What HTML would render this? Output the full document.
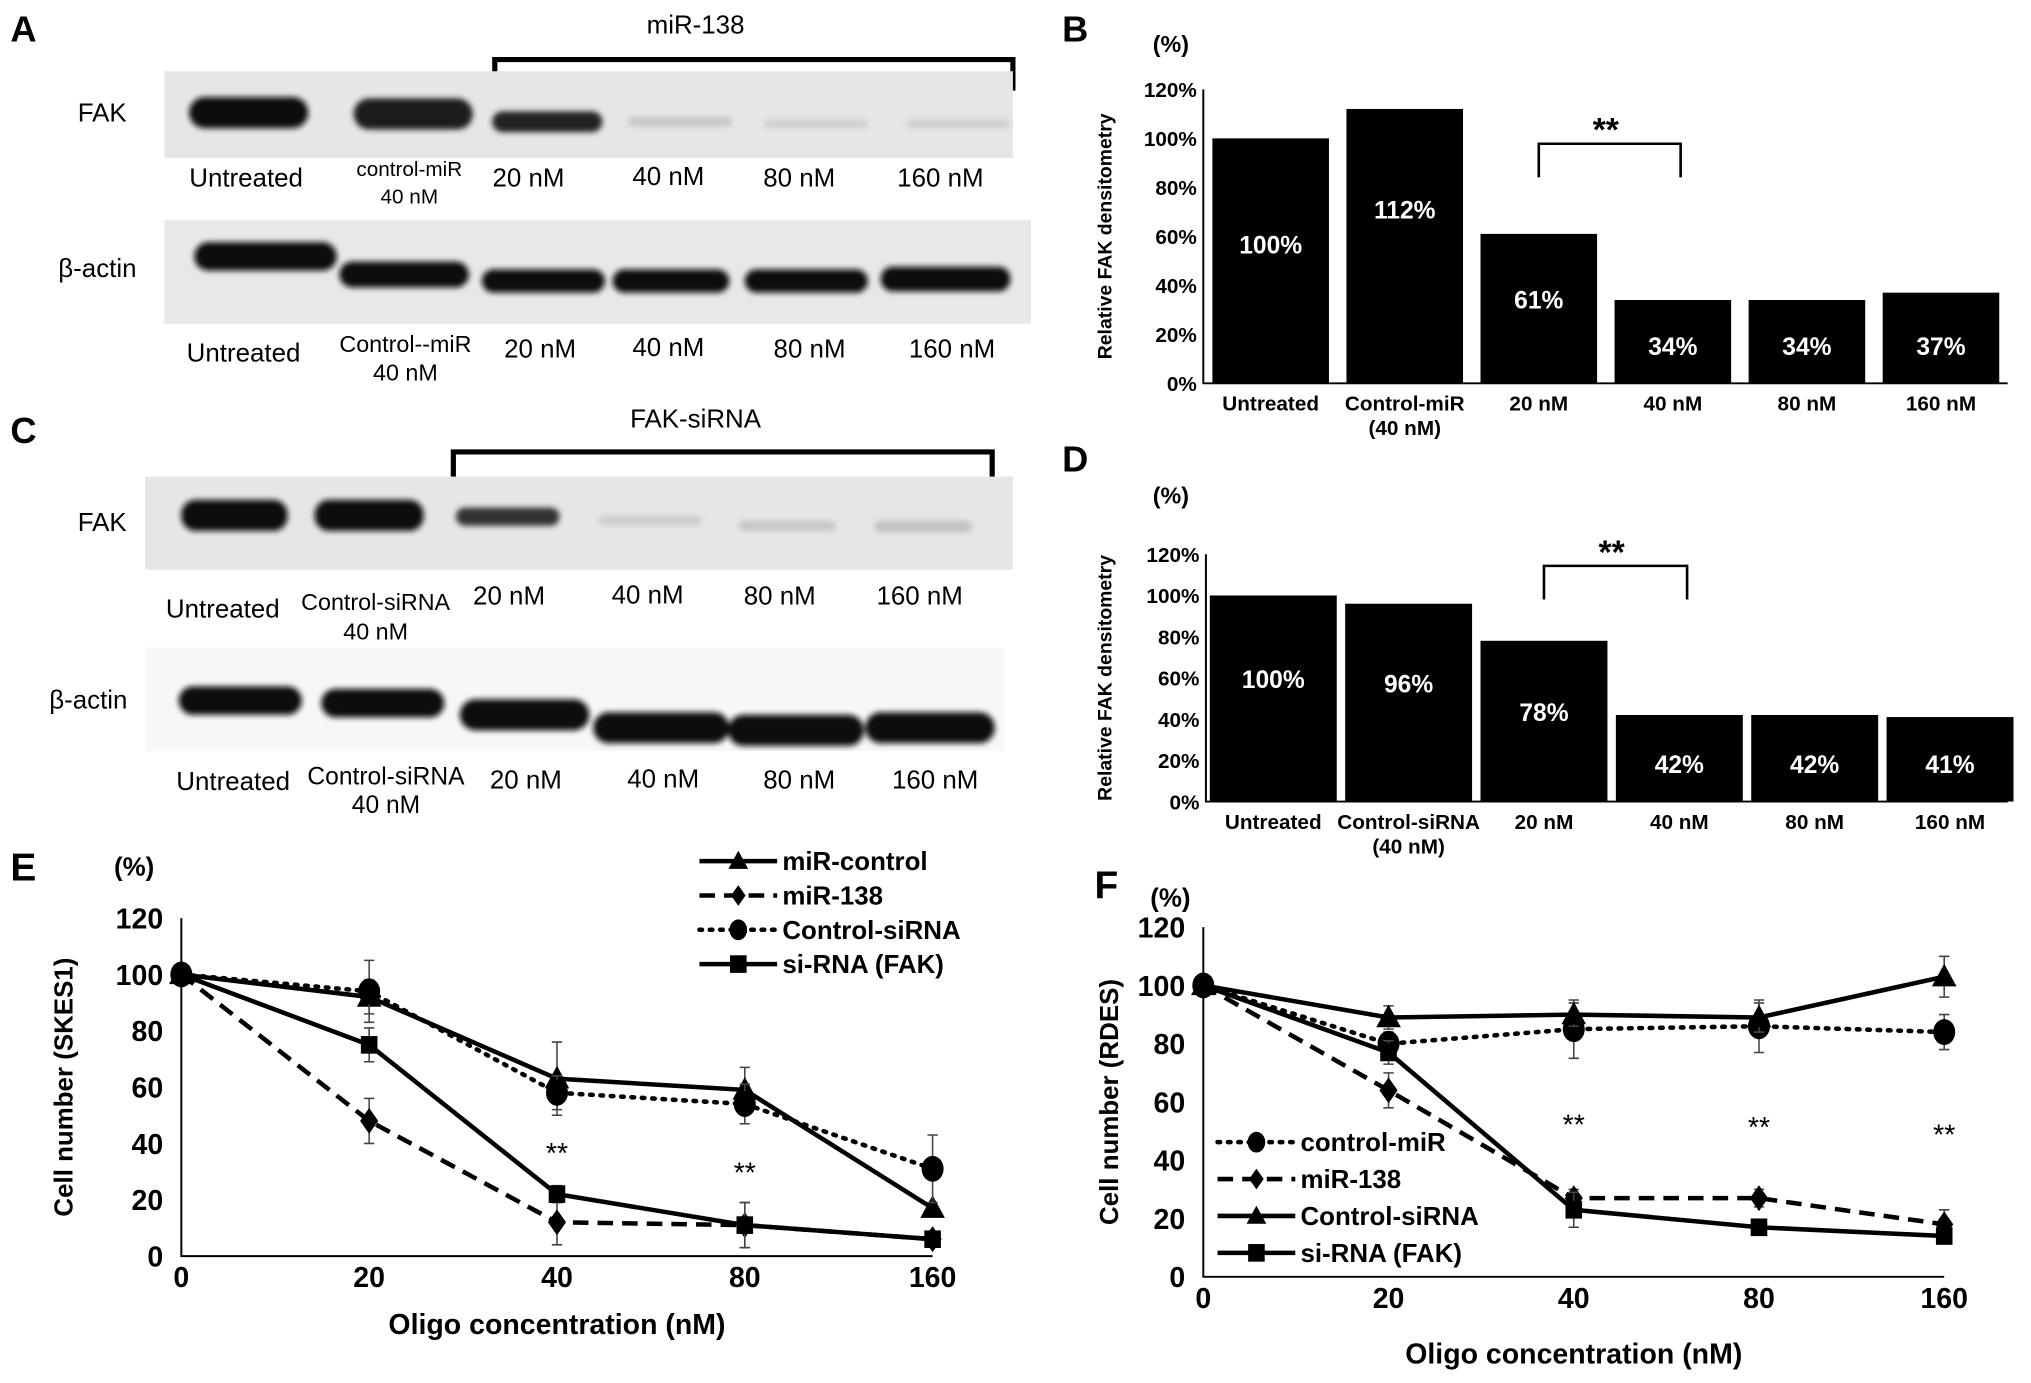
<!DOCTYPE html>
<html><head><meta charset="utf-8">
<style>
html,body{margin:0;padding:0;background:#fff;}
svg{display:block;}
text{font-family:"Liberation Sans Narrow","Liberation Sans",sans-serif;}
.b{font-weight:bold;}
</style></head>
<body>
<svg id="fig" width="2031" height="1383" viewBox="0 0 1568 1068" preserveAspectRatio="none" xmlns="http://www.w3.org/2000/svg">
<defs>
<filter id="blur" x="-20%" y="-50%" width="140%" height="200%"><feGaussianBlur stdDeviation="2.2"/></filter>
</defs>
<rect width="1568" height="1068" fill="#fff"/>

<!-- Panel A -->
<g>
<text x="8" y="32" font-size="28" class="b" font-family="Liberation Sans">A</text>
<text x="537" y="26" font-size="20" text-anchor="middle">miR-138</text>
<path d="M382,70 V46 H782 V70" fill="none" stroke="#000" stroke-width="4"/>
<rect x="127" y="55" width="655" height="67" fill="#e6e6e6"/>
<g filter="url(#blur)">
<rect x="146" y="75" width="92" height="24" rx="12" fill="#111"/>
<rect x="273" y="76" width="92" height="24" rx="12" fill="#1a1a1a"/>
<rect x="380" y="86" width="85" height="16" rx="8" fill="#222"/>
<rect x="485" y="90" width="80" height="8" rx="4" fill="#c8c8c8"/>
<rect x="590" y="92" width="80" height="7" rx="4" fill="#cfcfcf"/>
<rect x="700" y="92" width="80" height="7" rx="4" fill="#cfcfcf"/>
</g>
<text x="60" y="94" font-size="20">FAK</text>
<g font-size="20" text-anchor="middle">
<text x="190" y="144">Untreated</text>
<text x="316" y="136" font-size="16">control-miR</text>
<text x="316" y="157" font-size="16">40 nM</text>
<text x="408" y="144">20 nM</text>
<text x="516" y="143">40 nM</text>
<text x="617" y="144">80 nM</text>
<text x="726" y="144">160 nM</text>
</g>
<rect x="127" y="170" width="669" height="80" fill="#e8e8e8"/>
<g filter="url(#blur)">
<rect x="150" y="187" width="110" height="22" rx="11" fill="#111"/>
<rect x="262" y="202" width="100" height="20" rx="10" fill="#111"/>
<rect x="372" y="208" width="95" height="18" rx="9" fill="#111"/>
<rect x="473" y="208" width="90" height="18" rx="9" fill="#111"/>
<rect x="575" y="208" width="95" height="18" rx="9" fill="#111"/>
<rect x="680" y="206" width="100" height="19" rx="9" fill="#111"/>
</g>
<text x="45" y="214" font-size="20">β-actin</text>
<g font-size="20" text-anchor="middle">
<text x="188" y="279">Untreated</text>
<text x="313" y="272" font-size="18">Control--miR</text>
<text x="313" y="294" font-size="18">40 nM</text>
<text x="417" y="276">20 nM</text>
<text x="516" y="275">40 nM</text>
<text x="625" y="276">80 nM</text>
<text x="735" y="276">160 nM</text>
</g>
</g>

<!-- Panel C -->
<g>
<text x="8" y="342" font-size="28" class="b" font-family="Liberation Sans">C</text>
<text x="537" y="330" font-size="20" text-anchor="middle">FAK-siRNA</text>
<path d="M350,377 V349 H766 V377" fill="none" stroke="#000" stroke-width="4"/>
<rect x="112" y="368" width="670" height="72" fill="#e6e6e6"/>
<g filter="url(#blur)">
<rect x="140" y="386" width="82" height="24" rx="11" fill="#111"/>
<rect x="243" y="386" width="84" height="24" rx="11" fill="#111"/>
<rect x="352" y="392" width="80" height="14" rx="7" fill="#333"/>
<rect x="462" y="398" width="80" height="8" rx="4" fill="#cdcdcd"/>
<rect x="570" y="402" width="75" height="8" rx="4" fill="#c6c6c6"/>
<rect x="675" y="402" width="75" height="9" rx="4" fill="#c2c2c2"/>
</g>
<text x="60" y="410" font-size="20">FAK</text>
<rect x="112" y="500" width="663" height="80" fill="#f7f7f7"/>
<g font-size="20" text-anchor="middle">
<text x="172" y="477">Untreated</text>
<text x="290" y="471" font-size="18">Control-siRNA</text>
<text x="290" y="494" font-size="18">40 nM</text>
<text x="393" y="467">20 nM</text>
<text x="500" y="466">40 nM</text>
<text x="602" y="467">80 nM</text>
<text x="710" y="467">160 nM</text>
</g>
<g filter="url(#blur)">
<rect x="138" y="530" width="95" height="22" rx="11" fill="#111"/>
<rect x="248" y="532" width="95" height="22" rx="11" fill="#111"/>
<rect x="355" y="540" width="100" height="24" rx="12" fill="#111"/>
<rect x="458" y="550" width="105" height="24" rx="12" fill="#111"/>
<rect x="562" y="552" width="105" height="24" rx="12" fill="#111"/>
<rect x="668" y="550" width="100" height="24" rx="12" fill="#111"/>
</g>
<text x="38" y="547" font-size="20">β-actin</text>
<g font-size="20" text-anchor="middle">
<text x="180" y="610">Untreated</text>
<text x="298" y="606" font-size="19">Control-siRNA</text>
<text x="298" y="628" font-size="19">40 nM</text>
<text x="406" y="609">20 nM</text>
<text x="512" y="608">40 nM</text>
<text x="617" y="609">80 nM</text>
<text x="722" y="609">160 nM</text>
</g>
</g>

<g id="panelB"></g>
<g id="panelD"></g>
<g id="panelE"></g>
<g id="panelF"></g>
</svg>

<script>
// ---- Bar chart data ----
const barCatsB = ["Untreated", "Control-miR", "20 nM", "40 nM", "80 nM", "160 nM"];
const barValsB = [100, 112, 61, 34, 34, 37];
const barCatsD = ["Untreated", "Control-siRNA", "20 nM", "40 nM", "80 nM", "160 nM"];
const barValsD = [100, 96, 78, 42, 42, 41];
const barTicks = [0, 20, 40, 60, 80, 100, 120];

// ---- Line chart data ----
const xCats = ["0", "20", "40", "80", "160"];
const yTicks = [0, 20, 40, 60, 80, 100, 120];
const eNames = ["miR-control", "miR-138", "Control-siRNA", "si-RNA (FAK)"];
const eMirControl = [100, 92, 63, 59, 17];
const eMir138 = [100, 48, 12, 11, 6];
const eCtrlSiRNA = [100, 94, 58, 54, 31];
const eSiFAK = [100, 75, 22, 11, 6];
const eErrMirControl = [0, 6, 13, 8, 0];
const eErrMir138 = [0, 8, 8, 8, 0];
const eErrCtrlSiRNA = [0, 11, 6, 7, 12];
const eErrSiFAK = [0, 6, 3, 8, 0];
const fNames = ["control-miR", "miR-138", "Control-siRNA", "si-RNA (FAK)"];
const fCtrlMiR = [100, 80, 85, 86, 84];
const fMir138 = [100, 64, 27, 27, 18];
const fCtrlSiRNA = [100, 89, 90, 89, 103];
const fSiFAK = [100, 77, 23, 17, 14];
const fErrCtrlMiR = [0, 4, 10, 9, 6];
const fErrMir138 = [0, 6, 3, 3, 5];
const fErrCtrlSiRNA = [0, 4, 4, 5, 7];
const fErrSiFAK = [0, 4, 6, 0, 0];

const NS = "http://www.w3.org/2000/svg";
function mk(parent, tag, attrs, txt) {
  const e = document.createElementNS(NS, tag);
  for (const k in attrs) e.setAttribute(k, attrs[k]);
  if (txt !== undefined) e.textContent = txt;
  parent.appendChild(e);
  return e;
}

function barChart(g, o) {
  const y = v => o.y0 - (v / 120) * (o.y0 - o.y120);
  const x = i => o.x0 + o.first + i * o.step;
  let t = mk(g, "text", {x: o.lx, y: o.ly, "font-size": 28, "font-weight": "bold", "font-family": "Liberation Sans"}, o.letter);
  
  
  mk(g, "text", {x: 890, y: o.pctY, "font-size": 18, "font-weight": "bold"}, "(%)");
  t = mk(g, "text", {x: 0, y: 0, "font-size": 15, "font-weight": "bold", "text-anchor": "middle", "font-family": "Liberation Sans", transform: `translate(858,${(o.y0 + o.y120) / 2}) rotate(-90)`}, "Relative FAK densitometry");
  
  
  let ax = mk(g, "path", {d: `M${o.x0},${o.y120} V${o.y0} H1550`, stroke: "#000", "stroke-width": 1.5, fill: "none"});
  
  
  barTicks.forEach(v => {
    const tt = mk(g, "text", {x: o.x0 - 5, y: y(v) + 6, "font-size": 16, "font-weight": "bold", "text-anchor": "end"}, v + "%");
    
    
  });
  o.vals.forEach((v, i) => {
    const r = mk(g, "rect", {x: x(i) - o.w / 2, y: y(v), width: o.w, height: o.y0 - y(v), fill: "#000"});
    
    
    const ly = i < 3 ? y(v) + (o.y0 - y(v)) * o.labFrac[i] : o.y0 - 22;
    const lt = mk(g, "text", {x: x(i), y: ly, "font-size": 19, "font-weight": "bold", fill: "#fff", "text-anchor": "middle", "font-family": "Liberation Sans"}, v + "%");
    
    
    const cl = mk(g, "text", {x: x(i), y: o.y0 + 21, "font-size": 16, "font-weight": "bold", "text-anchor": "middle"}, o.cats[i]);
    
    
  });
  mk(g, "text", {x: x(1), y: o.y0 + 40, "font-size": 16, "font-weight": "bold", "text-anchor": "middle"}, "(40 nM)");
  const bk = mk(g, "path", {d: `M${x(2)},${o.bkY + 26} V${o.bkY} H${x(3) + 6} V${o.bkY + 26}`, stroke: "#000", "stroke-width": 2, fill: "none"});
  
  
  mk(g, "text", {x: (x(2) + x(3)) / 2, y: o.bkY - 2, "font-size": 26, "font-weight": "bold", "text-anchor": "middle"}, "**");
}

barChart(document.getElementById("panelB"), {letter: "B", lx: 820, ly: 32, pctY: 40, x0: 929, y0: 296, y120: 69, first: 52, step: 103.5, w: 90,
  vals: barValsB, cats: barCatsB, labFrac: [0.47, 0.4, 0.5], bkY: 111});
barChart(document.getElementById("panelD"), {letter: "D", lx: 820, ly: 364, pctY: 389, x0: 931, y0: 619, y120: 428, first: 52, step: 104.5, w: 98,
  vals: barValsD, cats: barCatsD, labFrac: [0.45, 0.45, 0.5], bkY: 437});

function marker(g, type, cx, cy, s) {
  let m;
  if (type === "tri") m = mk(g, "path", {d: `M${cx},${cy - s} L${cx + s * 0.95},${cy + s * 0.75} L${cx - s * 0.95},${cy + s * 0.75}Z`, fill: "#000"});
  else if (type === "dia") m = mk(g, "path", {d: `M${cx},${cy - s} L${cx + s * 0.7},${cy} L${cx},${cy + s} L${cx - s * 0.7},${cy}Z`, fill: "#000"});
  else if (type === "cir") m = mk(g, "ellipse", {cx: cx, cy: cy, rx: s * 0.85, ry: s, fill: "#000"});
  else m = mk(g, "rect", {x: cx - s * 0.8, y: cy - s * 0.85, width: s * 1.6, height: s * 1.7, fill: "#000"});
  
  
  return m;
}
const dashOf = {solid: "", dash: "12,7", dot: "2,6"};

function lineChart(g, o) {
  const y = v => o.y0 - (v / 120) * (o.y0 - o.y120);
  const x = i => o.x0 + i * o.step;
  let t = mk(g, "text", {x: o.lx, y: o.ly, "font-size": 30, "font-weight": "bold", "font-family": "Liberation Sans"}, o.letter);
  
  
  mk(g, "text", {x: o.pctX, y: o.pctY, "font-size": 20, "font-weight": "bold"}, "(%)");
  t = mk(g, "text", {x: 0, y: 0, "font-size": 20, "font-weight": "bold", "text-anchor": "middle", "font-family": "Liberation Sans", transform: `translate(${o.titleX},${(o.y0 + o.y120) / 2}) rotate(-90)`}, o.ytitle);
  
  
  const xEnd = x(xCats.length - 1);
  let ax = mk(g, "path", {d: `M${o.x0},${o.y120} V${o.y0} H${xEnd}`, stroke: "#000", "stroke-width": 1.5, fill: "none"});
  
  
  yTicks.forEach(v => {
    const tt = mk(g, "text", {x: o.x0 - 14, y: y(v) + 8, "font-size": 22, "font-weight": "bold", "text-anchor": "end"}, String(v));
    
    
  });
  xCats.forEach((c, i) => {
    const tt = mk(g, "text", {x: x(i), y: o.y0 + 24, "font-size": 22, "font-weight": "bold", "text-anchor": "middle"}, c);
    
    
  });
  t = mk(g, "text", {x: (o.x0 + xEnd) / 2, y: o.xtY, "font-size": 22, "font-weight": "bold", "text-anchor": "middle"}, "Oligo concentration (nM)");
  
  
  o.series.forEach((s, si) => {
    const sg = mk(g, "g", {});
    
    
    s.err.forEach((e, i) => {
      if (!e) return;
      const cx = x(i), a = y(s.vals[i] + e), b = y(s.vals[i] - e);
      const eb = mk(sg, "path", {d: `M${cx},${a} V${b} M${cx - 4},${a} H${cx + 4} M${cx - 4},${b} H${cx + 4}`, stroke: "#444", "stroke-width": 1.2, fill: "none"});
      
      
    });
    const pts = s.vals.map((v, i) => `${x(i)},${y(v)}`).join(" ");
    const pl = mk(sg, "polyline", {points: pts, fill: "none", stroke: "#000", "stroke-width": 3.5, "stroke-dasharray": dashOf[s.dash], "stroke-linecap": s.dash === "dot" ? "round" : "butt"});
    
    
    s.vals.forEach((v, i) => marker(sg, s.mk, x(i), y(v), s.mk === "sq" ? 8 : 10));
    const ly = o.legY + si * o.legStep;
    const lg = mk(g, "g", {});
    
    
    mk(lg, "line", {x1: o.legX, y1: ly, x2: o.legX + 60, y2: ly, stroke: "#000", "stroke-width": 3.5, "stroke-dasharray": dashOf[s.dash], "stroke-linecap": s.dash === "dot" ? "round" : "butt"});
    marker(lg, s.mk, o.legX + 30, ly, 8);
    mk(lg, "text", {x: o.legX + 64, y: ly + 7, "font-size": 20, "font-weight": "bold"}, s.name);
  });
  o.stars.forEach(st => {
    const s = mk(g, "text", {x: x(st[0]), y: st[1], "font-size": 22, "text-anchor": "middle"}, "**");
    
    
  });
}

lineChart(document.getElementById("panelE"), {letter: "E", lx: 8, ly: 680, pctX: 88, pctY: 676, titleX: 56, ytitle: "Cell number (SKES1)",
  x0: 140, y0: 970, y120: 709, step: 145, xtY: 1030,
  legX: 540, legY: 665, legStep: 26.5, stars: [[2, 898], [3, 913]],
  series: [
    {name: eNames[0], vals: eMirControl, err: eErrMirControl, dash: "solid", mk: "tri"},
    {name: eNames[1], vals: eMir138, err: eErrMir138, dash: "dash", mk: "dia"},
    {name: eNames[2], vals: eCtrlSiRNA, err: eErrCtrlSiRNA, dash: "dot", mk: "cir"},
    {name: eNames[3], vals: eSiFAK, err: eErrSiFAK, dash: "solid", mk: "sq"}
  ]});

lineChart(document.getElementById("panelF"), {letter: "F", lx: 845, ly: 694, pctX: 888, pctY: 700, titleX: 863, ytitle: "Cell number (RDES)",
  x0: 929, y0: 986, y120: 716, step: 143, xtY: 1053,
  legX: 940, legY: 882, legStep: 28.5, stars: [[2, 876], [3, 878], [4, 884]],
  series: [
    {name: fNames[0], vals: fCtrlMiR, err: fErrCtrlMiR, dash: "dot", mk: "cir"},
    {name: fNames[1], vals: fMir138, err: fErrMir138, dash: "dash", mk: "dia"},
    {name: fNames[2], vals: fCtrlSiRNA, err: fErrCtrlSiRNA, dash: "solid", mk: "tri"},
    {name: fNames[3], vals: fSiFAK, err: fErrSiFAK, dash: "solid", mk: "sq"}
  ]});
</script>
</body></html>
